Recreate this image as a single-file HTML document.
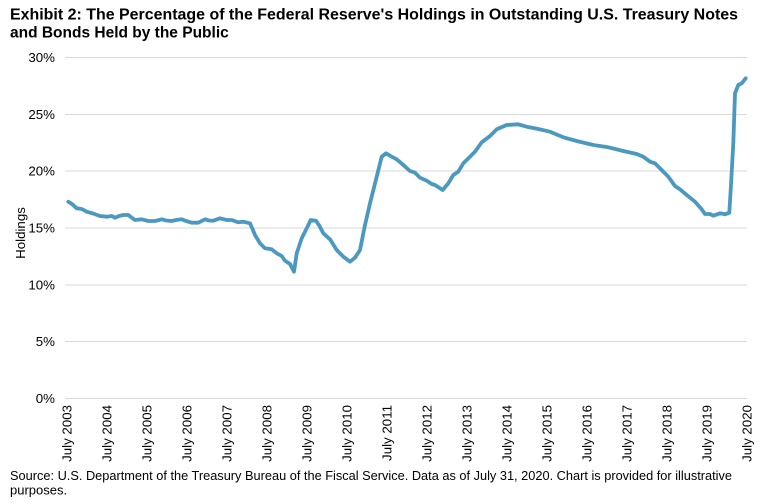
<!DOCTYPE html>
<html>
<head>
<meta charset="utf-8">
<style>
  html, body { margin: 0; padding: 0; background: #ffffff; }
  svg { display: block; }
  text { font-family: "Liberation Sans", Arial, sans-serif; fill: #000; }
</style>
</head>
<body>
<svg width="762" height="504" viewBox="0 0 762 504" xmlns="http://www.w3.org/2000/svg">
  <rect width="762" height="504" fill="#ffffff"/>

  <!-- Title -->
  <text x="10" y="19.5" font-size="15.5" font-weight="bold" textLength="728" lengthAdjust="spacingAndGlyphs">Exhibit 2: The Percentage of the Federal Reserve's Holdings in Outstanding U.S. Treasury Notes</text>
  <text x="10" y="37.5" font-size="15.5" font-weight="bold">and Bonds Held by the Public</text>

  <!-- Gridlines -->
  <g stroke="#d9d9d9" stroke-width="1">
    <line x1="65" y1="57.5" x2="747" y2="57.5"/>
    <line x1="65" y1="114.5" x2="747" y2="114.5"/>
    <line x1="65" y1="171" x2="747" y2="171"/>
    <line x1="65" y1="228" x2="747" y2="228"/>
    <line x1="65" y1="285" x2="747" y2="285"/>
    <line x1="65" y1="341.5" x2="747" y2="341.5"/>
    <line x1="65" y1="398.5" x2="747" y2="398.5"/>
  </g>

  <!-- Y axis labels -->
  <g font-size="13.3" text-anchor="end">
    <text x="55" y="62">30%</text>
    <text x="55" y="119">25%</text>
    <text x="55" y="175.5">20%</text>
    <text x="55" y="232.5">15%</text>
    <text x="55" y="289.5">10%</text>
    <text x="55" y="346">5%</text>
    <text x="55" y="403">0%</text>
  </g>

  <!-- Y axis title -->
  <text transform="translate(25,233) rotate(-90)" font-size="13.3" text-anchor="middle">Holdings</text>

  <!-- X axis labels -->
  <g font-size="13.3" text-anchor="end">
    <text transform="translate(71.5,405) rotate(-90)">July 2003</text>
    <text transform="translate(111.5,405) rotate(-90)">July 2004</text>
    <text transform="translate(151.5,405) rotate(-90)">July 2005</text>
    <text transform="translate(191.5,405) rotate(-90)">July 2006</text>
    <text transform="translate(231.5,405) rotate(-90)">July 2007</text>
    <text transform="translate(271.5,405) rotate(-90)">July 2008</text>
    <text transform="translate(311.5,405) rotate(-90)">July 2009</text>
    <text transform="translate(351.5,405) rotate(-90)">July 2010</text>
    <text transform="translate(391.5,405) rotate(-90)">July 2011</text>
    <text transform="translate(431.5,405) rotate(-90)">July 2012</text>
    <text transform="translate(471.5,405) rotate(-90)">July 2013</text>
    <text transform="translate(511.5,405) rotate(-90)">July 2014</text>
    <text transform="translate(551.5,405) rotate(-90)">July 2015</text>
    <text transform="translate(591.5,405) rotate(-90)">July 2016</text>
    <text transform="translate(631.5,405) rotate(-90)">July 2017</text>
    <text transform="translate(671.5,405) rotate(-90)">July 2018</text>
    <text transform="translate(711.5,405) rotate(-90)">July 2019</text>
    <text transform="translate(751.5,405) rotate(-90)">July 2020</text>
  </g>

  <!-- Data line -->
  <polyline fill="none" stroke="#4b98c1" stroke-width="3.8" stroke-linejoin="round" stroke-linecap="round"
    points="68.3,201.7 72,204 76.7,208.3 81.7,209 86.7,211.7 93,213.5 100,216 106.7,216.7 111.7,216 115,217.7 119,216 123.3,215 128.3,215 131.5,217.5 135,220 141.7,219.3 148.3,221 155,221 161.7,219.3 166,220.5 171.7,221 176,220 181.7,219.3 186,221 191.7,222.7 198.3,222.7 205,219.3 209,220.5 213.3,220.7 220,218.3 226.7,220 231.7,220 238.3,222.3 243.3,221.7 250,223.3 252.5,229 255,235 260,243.3 265,248.3 271.7,249.3 276.7,253.3 281.7,256 285,260.7 290,264 294,271.7 296.7,253.3 301.7,238.3 306.7,228.3 310.7,220 316,220.7 319.5,226 323.3,233.3 330,239.3 336.7,250 343.3,256.7 350,261.7 355,257.7 360,250 365,225 370,203.3 376.7,176.7 381.7,156.7 386,153.3 391.7,156.7 396.7,159.3 403.3,165 410,171 415,172.7 420,177.7 426.7,180.7 431.7,184 435,185 442.7,190 448.3,183.3 453.3,175 458.3,171.7 463.3,163.3 470,156.7 475,151.7 481.7,142.3 490,136 496.7,129.3 506.7,125 518.3,124.3 526.7,126.7 538.3,129 550,131.7 563.3,137.3 576.7,141 593.3,145 608.3,147.3 623.3,151 636.7,154 643.3,156.7 650,161.7 655,163.3 661.7,170 668.3,176.7 675,186 680,189.3 686.7,195 695,201.7 701.7,209.3 705,214 710,214 713.3,215.7 720,213.3 725,214.3 729.3,212.7 730.7,190 733.3,143.3 735,93.3 738.3,85 741.7,83.3 745.7,78.3"/>

  <!-- Source -->
  <text x="10" y="480" font-size="13" textLength="722" lengthAdjust="spacingAndGlyphs">Source: U.S. Department of the Treasury Bureau of the Fiscal Service. Data as of July 31, 2020. Chart is provided for illustrative</text>
  <text x="10" y="494.5" font-size="13">purposes.</text>
</svg>
</body>
</html>
